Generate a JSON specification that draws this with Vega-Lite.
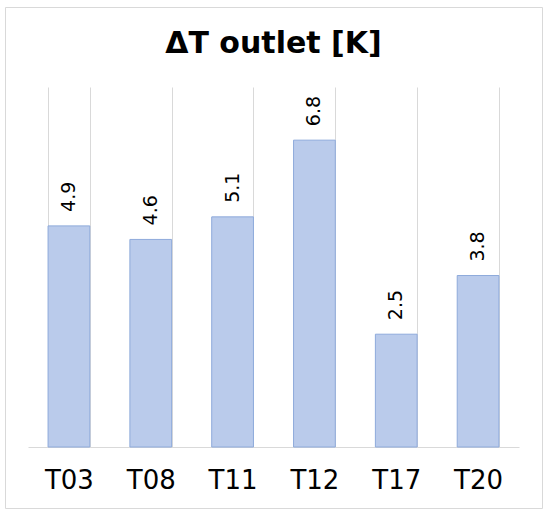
{
  "$schema": "https://vega.github.io/schema/vega-lite/v6.json",
  "width": 537,
  "height": 501,
  "autosize": {"type": "none"},
  "padding": {"left": 5, "top": 7, "right": 8, "bottom": 9},
  "background": "white",
  "config": {"view": {"stroke": "#d9d9d9", "strokeWidth": 1}, "font": "DejaVu Sans"},
  "title": {"text": "ΔT outlet [K]", "anchor": "middle", "frame": "group", "fontSize": 30, "fontWeight": "bold", "font": "DejaVu Sans", "color": "#000000", "baseline": "alphabetic", "offset": -76},
  "data": {"values": [
    {"sensor": "T03", "dT": 4.9},
    {"sensor": "T08", "dT": 4.6},
    {"sensor": "T11", "dT": 5.1},
    {"sensor": "T12", "dT": 6.8},
    {"sensor": "T17", "dT": 2.5},
    {"sensor": "T20", "dT": 3.8}
  ]},
  "encoding": {
    "x": {"field": "sensor", "type": "nominal", "sort": null,
      "scale": {"range": [23, 514], "paddingInner": 0.49, "paddingOuter": 0.245},
      "axis": {"title": null, "orient": "bottom", "offset": -61, "domain": true, "domainColor": "#d9d9d9", "domainWidth": 1, "ticks": true, "tickBand": "extent", "tickSize": -360, "tickColor": "#d9d9d9", "tickWidth": 1, "labelAngle": 0, "labelFontSize": 26, "labelFont": "DejaVu Sans", "labelColor": "#000000", "labelBaseline": "alphabetic", "labelPadding": 401, "grid": false}},
    "y": {"field": "dT", "type": "quantitative", "scale": {"domain": [0, 8], "range": [440, 79]}, "axis": null}
  },
  "layer": [
    {"mark": {"type": "bar", "fill": "#bacbeb", "stroke": "#8eaadb", "strokeWidth": 1}},
    {"mark": {"type": "text", "angle": 270, "align": "left", "baseline": "middle", "dx": 14, "fontSize": 19, "font": "DejaVu Sans", "color": "#000000"},
     "encoding": {"text": {"field": "dT", "type": "quantitative", "format": ".1f"}}}
  ]
}
